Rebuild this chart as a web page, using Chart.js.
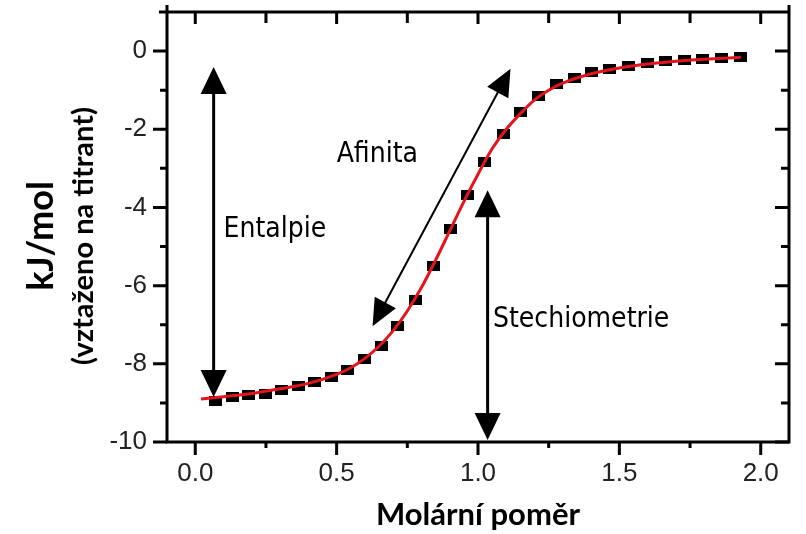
<!DOCTYPE html>
<html><head><meta charset="utf-8">
<script src="https://cdn.jsdelivr.net/npm/chart.js@4/dist/chart.umd.min.js"></script>
<style>html,body{margin:0;padding:0;background:#fff;}</style>
</head><body>
<canvas id="c" width="806" height="534"></canvas>
<script>
// ---- data ----
const molarRatio = [0.073,0.132,0.189,0.247,0.306,0.364,0.423,0.481,0.540,0.600,0.658,0.717,0.780,0.841,0.903,0.963,1.024,1.089,1.151,1.214,1.277,1.340,1.403,1.466,1.532,1.598,1.663,1.729,1.795,1.861,1.927];
const heatValues = [-8.94,-8.85,-8.81,-8.77,-8.68,-8.57,-8.47,-8.33,-8.15,-7.88,-7.54,-7.03,-6.38,-5.50,-4.54,-3.68,-2.83,-2.11,-1.57,-1.15,-0.85,-0.68,-0.53,-0.45,-0.37,-0.30,-0.25,-0.22,-0.20,-0.17,-0.14];
const fitRatio = [0.02,0.1,0.2,0.3,0.4,0.5,0.55,0.6,0.65,0.7,0.75,0.8,0.85,0.9,0.95,1.0,1.05,1.1,1.15,1.2,1.25,1.3,1.4,1.5,1.6,1.7,1.8,1.93];
const fitHeat = [-8.90,-8.84,-8.76,-8.64,-8.50,-8.27,-8.10,-7.86,-7.55,-7.15,-6.65,-6.05,-5.35,-4.60,-3.85,-3.15,-2.50,-2.00,-1.60,-1.25,-1.00,-0.82,-0.58,-0.43,-0.33,-0.26,-0.21,-0.16];
const xTickValues = [0,0.5,1,1.5,2];
const xMinorValues = [0.25,0.75,1.25,1.75];
const yTickValues = [-10,-8,-6,-4,-2,0];
const yMinorValues = [-9,-7,-5,-3,-1];
const xAxisTitle = 'Molární poměr';
const yAxisTitle = 'kJ/mol';
const yAxisSubtitle = '(vztaženo na titrant)';
const noteTexts = ['Entalpie','Afinita','Stechiometrie'];
const noteX = [0.10, 0.50, 1.053];
const noteY = [-4.56, -2.64, -6.88];
const arrowStartX = [0.065, 0.627, 1.034];
const arrowStartY = [-8.85, -7.04, -9.95];
const arrowEndX = [0.065, 1.115, 1.034];
const arrowEndY = [-0.41, -0.45, -3.56];

// point marker (small black rectangle)
const marker = document.createElement('canvas');
marker.width = 13; marker.height = 10;
(function(){const m = marker.getContext('2d'); m.fillStyle = '#000'; m.fillRect(0,0,13,10);})();

const AREA = {left:167, right:789, top:12, bottom:442};

const framePlugin = {
  id: 'frame',
  afterDatasetsDraw(chart) {
    const {ctx, scales: {x, y}} = chart;
    ctx.save();
    ctx.fillStyle = '#000'; ctx.strokeStyle = '#000';
    function head(tx, ty, ux, uy, L, W) {
      const bx = tx - ux * L, by = ty - uy * L, px = -uy, py = ux;
      ctx.beginPath();
      ctx.moveTo(tx, ty);
      ctx.lineTo(bx + px * W / 2, by + py * W / 2);
      ctx.lineTo(bx - px * W / 2, by - py * W / 2);
      ctx.closePath(); ctx.fill();
    }
    for (let i = 0; i < arrowStartX.length; i++) {
      const x1 = x.getPixelForValue(arrowStartX[i]), y1 = y.getPixelForValue(arrowStartY[i]);
      const x2 = x.getPixelForValue(arrowEndX[i]), y2 = y.getPixelForValue(arrowEndY[i]);
      const ang = Math.atan2(y2 - y1, x2 - x1), ux = Math.cos(ang), uy = Math.sin(ang);
      const L = 27, W = i === 1 ? 24 : 26;
      ctx.lineWidth = i === 1 ? 2 : 3;
      ctx.beginPath();
      ctx.moveTo(x1 + ux * (L - 2), y1 + uy * (L - 2));
      ctx.lineTo(x2 - ux * (L - 2), y2 - uy * (L - 2));
      ctx.stroke();
      head(x2, y2, ux, uy, L, W);
      head(x1, y1, -ux, -uy, L, W);
    }
    ctx.font = "28px 'DejaVu Sans Condensed', 'DejaVu Sans', sans-serif";
    ctx.textAlign = 'left'; ctx.textBaseline = 'middle';
    for (let i = 0; i < noteTexts.length; i++) {
      ctx.fillText(noteTexts[i], x.getPixelForValue(noteX[i]), y.getPixelForValue(noteY[i]));
    }
    ctx.restore();
  },
  afterDraw(chart) {
    const {ctx, chartArea: a, scales: {x, y}} = chart;
    ctx.save();
    ctx.strokeStyle = '#000'; ctx.lineCap = 'butt';
    ctx.lineWidth = 3;
    ctx.beginPath();
    ctx.moveTo(a.left, a.top - 7); ctx.lineTo(a.left, a.bottom + 1.5);
    ctx.moveTo(a.left - 8, a.top); ctx.lineTo(a.right + 1.5, a.top);
    ctx.moveTo(a.right, a.top - 7); ctx.lineTo(a.right, a.bottom + 1.5);
    ctx.moveTo(a.left - 1.5, a.bottom); ctx.lineTo(a.right + 1.5, a.bottom);
    ctx.stroke();
    ctx.beginPath();
    const seg = (x1, y1, x2, y2) => { ctx.moveTo(x1, y1); ctx.lineTo(x2, y2); };
    xTickValues.forEach(v => { const p = x.getPixelForValue(v); seg(p, a.bottom, p, a.bottom + 13); seg(p, a.top, p, a.top + 12); });
    xMinorValues.forEach(v => { const p = x.getPixelForValue(v); seg(p, a.bottom, p, a.bottom + 6); seg(p, a.top, p, a.top + 11); });
    yTickValues.forEach(v => { const p = y.getPixelForValue(v); seg(a.left - 14, p, a.left, p); seg(a.right - 14, p, a.right, p); });
    yMinorValues.forEach(v => { const p = y.getPixelForValue(v); seg(a.left - 7, p, a.left, p); seg(a.right - 8, p, a.right, p); });
    ctx.stroke();
    // y axis titles (two lines, different sizes)
    const cy = 236;
    ctx.fillStyle = '#000'; ctx.textAlign = 'center'; ctx.textBaseline = 'middle';
    ctx.translate(41, cy); ctx.rotate(-Math.PI / 2);
    ctx.font = "bold 36px Lato, 'Liberation Sans', sans-serif";
    ctx.fillText(yAxisTitle, 0, 0);
    ctx.font = "bold 29px Lato, 'Liberation Sans', sans-serif";
    ctx.fillText(yAxisSubtitle, 0, 43);
    ctx.restore();
  }
};

const zeroPad = s => { s.paddingTop = 0; s.paddingBottom = 0; s.paddingLeft = 0; s.paddingRight = 0; };

new Chart(document.getElementById('c'), {
  type: 'scatter',
  data: {
    datasets: [
      {
        label: 'fit', type: 'line', order: 0,
        data: fitRatio.map((v, i) => ({x: v, y: fitHeat[i]})),
        borderColor: '#e3141b', borderWidth: 3, pointRadius: 0, fill: false,
        cubicInterpolationMode: 'monotone'
      },
      {
        label: 'data', order: 1,
        data: molarRatio.map((v, i) => ({x: v, y: heatValues[i]})),
        pointStyle: marker, pointRadius: 6, backgroundColor: '#000', borderColor: '#000'
      }
    ]
  },
  options: {
    responsive: false, animation: false, devicePixelRatio: 1,
    layout: {padding: {left: 0, right: 806 - AREA.right, top: AREA.top, bottom: 0}},
    plugins: {legend: {display: false}, tooltip: {enabled: false}},
    scales: {
      x: {
        type: 'linear', min: -0.1, max: 2.1,
        grid: {display: false, drawTicks: false}, border: {display: false},
        afterBuildTicks: s => { s.ticks = xTickValues.map(v => ({value: v})); },
        afterFit: s => { s.height = 534 - AREA.bottom; zeroPad(s); },
        ticks: {padding: 16, color: '#222', font: {family: "'Liberation Sans', Arial, sans-serif", size: 26},
                callback: v => Number(v).toFixed(1), maxRotation: 0},
        title: {display: true, text: xAxisTitle, color: '#000', padding: {top: 0, bottom: 0},
                font: {family: "Lato, 'Liberation Sans', sans-serif", size: 31, weight: 'bold'}}
      },
      y: {
        type: 'linear', min: -10, max: 1,
        grid: {display: false, drawTicks: false}, border: {display: false},
        afterBuildTicks: s => { s.ticks = yTickValues.map(v => ({value: v})); },
        afterFit: s => { s.width = AREA.left; zeroPad(s); },
        ticks: {padding: 20, color: '#222', font: {family: "'Liberation Sans', Arial, sans-serif", size: 26},
                callback: v => String(v)}
      }
    }
  },
  plugins: [framePlugin]
});
</script>
</body></html>
